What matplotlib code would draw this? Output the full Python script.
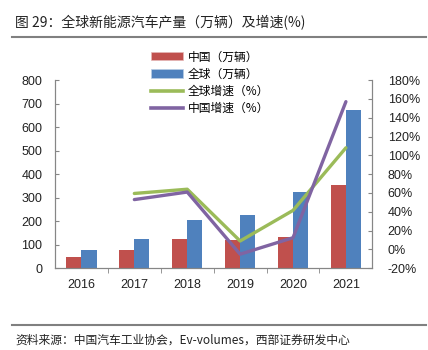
import matplotlib.pyplot as plt
import numpy as np
from matplotlib.lines import Line2D
from matplotlib.patches import Patch
from matplotlib.ticker import FuncFormatter, FixedLocator

years = ["2016", "2017", "2018", "2019", "2020", "2021"]
china_units = [49, 78, 125, 121, 134, 352]
global_units = [78, 125, 206, 227, 323, 673]
global_growth = [None, 59.5, 64, 9, 41.5, 108]
china_growth = [None, 53, 61, -5, 12.5, 157]

C_RED = "#C0504D"
C_BLUE = "#4F81BD"
C_GREEN = "#9BBB59"
C_PURPLE = "#8064A2"
GRAY = "#868686"
CJK = ["Noto Sans CJK SC", "DejaVu Sans"]
NUM = ["Liberation Sans", "DejaVu Sans"]

fig = plt.figure(figsize=(4.28, 3.5), dpi=100)
fig.patch.set_facecolor("white")
ax = fig.add_axes([0.1285, 0.2334, 0.7415, 0.538])
ax2 = ax.twinx()

x = np.arange(len(years))
w = 0.285
ax.bar(x - w / 2, china_units, w, color=C_RED, zorder=2)
ax.bar(x + w / 2, global_units, w, color=C_BLUE, zorder=2)

gx = [i for i, v in enumerate(global_growth) if v is not None]
ax2.plot(gx, [global_growth[i] for i in gx], color=C_GREEN, lw=2.4,
         solid_capstyle="round", zorder=3)
ax2.plot(gx, [china_growth[i] for i in gx], color=C_PURPLE, lw=2.4,
         solid_capstyle="round", zorder=3)

ax.set_xlim(-0.5, len(years) - 0.5)
ax.set_ylim(0, 800)
ax.set_yticks(range(0, 801, 100))
ax2.set_ylim(-20, 180)
ax2.set_yticks(range(-20, 181, 20))
ax2.yaxis.set_major_formatter(FuncFormatter(lambda v, p: f"{int(v)}%"))

ax.set_xticks(x)
ax.set_xticklabels(years)
ax.xaxis.set_minor_locator(FixedLocator(np.arange(0.5, len(years) - 0.5, 1)))
ax.tick_params(axis="x", which="major", length=0, pad=8)
ax.tick_params(axis="x", which="minor", length=3.5, direction="out", color=GRAY)
ax.tick_params(axis="y", length=3, direction="in", color=GRAY, pad=9)
ax2.tick_params(axis="y", length=3, direction="in", color=GRAY, pad=11)

for a in (ax, ax2):
    a.spines["top"].set_visible(False)
    for s in ("left", "right", "bottom"):
        a.spines[s].set_color(GRAY)
        a.spines[s].set_linewidth(0.8)
    for lab in a.get_xticklabels() + a.get_yticklabels():
        lab.set_fontfamily(NUM)
        lab.set_fontsize(9)
        lab.set_color("#222222")

handles = [
    Patch(facecolor=C_RED, edgecolor="#E6B8B7", lw=0.5, label="中国（万辆）"),
    Patch(facecolor=C_BLUE, edgecolor="#B8CCE4", lw=0.5, label="全球（万辆）"),
    Line2D([], [], color=C_GREEN, lw=2.6, label="全球增速（%）"),
    Line2D([], [], color=C_PURPLE, lw=2.6, label="中国增速（%）"),
]
fig.legend(handles=handles, loc="upper left", bbox_to_anchor=(0.352, 0.856),
           frameon=False, prop={"family": CJK, "size": 8.5},
           handlelength=2.7, handleheight=0.7, handletextpad=0.45,
           labelspacing=0.35, borderpad=0, borderaxespad=0)

# header / footer
fig.text(0.035, 0.934, "图 29：全球新能源汽车产量（万辆）及增速(%)",
         ha="left", va="center", fontsize=10, family=CJK, color="#222222")
fig.add_artist(Line2D([0.028, 0.995], [0.893, 0.893], color="#808080", lw=1.5))
fig.add_artist(Line2D([0.028, 0.995], [0.071, 0.071], color="#808080", lw=1.5))
fig.text(0.035, 0.029, "资料来源：中国汽车工业协会，Ev-volumes，西部证券研发中心",
         ha="left", va="center", fontsize=8.5, family=CJK, color="#222222")

fig.savefig("out.png", dpi=100, facecolor="white")
